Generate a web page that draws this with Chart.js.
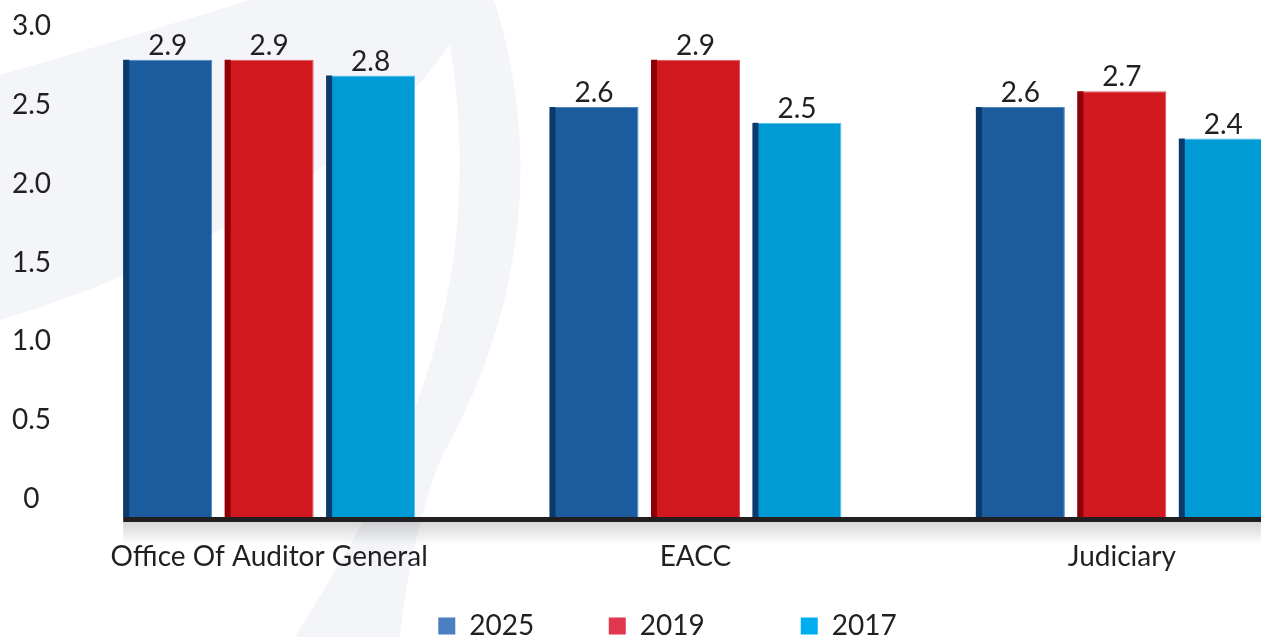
<!DOCTYPE html>
<html>
<head>
<meta charset="utf-8">
<script src="https://cdn.jsdelivr.net/npm/chart.js@4.4.1/dist/chart.umd.min.js"></script>
<style>
  html, body { margin: 0; padding: 0; background: #fff; overflow: hidden; }
  #contenedor { position: relative; width: 1340px; height: 650px; }
</style>
</head>
<body>
<div id="contenedor"><canvas id="chartInstituciones"></canvas></div>
<script>
// datos
var categorias = ['Office Of Auditor General', 'EACC', 'Judiciary'];
var anios = ['2025', '2019', '2017'];
var valores2025 = [2.9, 2.6, 2.6];
var valores2019 = [2.9, 2.9, 2.7];
var valores2017 = [2.8, 2.5, 2.4];
var ticksY = [0, 0.5, 1.0, 1.5, 2.0, 2.5, 3.0];
var etiquetasY = ['0', '0.5', '1.0', '1.5', '2.0', '2.5', '3.0'];

var colorBarra = ['#1a5c9e', '#d1181f', '#009bd4'];
var colorLado = ['#0c3a6c', '#8e0008', '#0d3a6d'];
var colorBorde = ['#4f86c0', '#e0575c', '#55c3ea'];
var colorLeyenda = ['#4a7fc1', '#e0364e', '#00aeef'];
var espaciosLeyenda = [9, 12, 0];
var texto = '#231f20';
var fuente = "'Lato', 'Noto Sans', sans-serif";

Chart.defaults.font.family = fuente;
Chart.defaults.font.size = 28;
Chart.defaults.font.weight = 'normal';
Chart.defaults.color = texto;

// fondo con la marca de agua
var fondo = {
  id: 'fondo',
  beforeDraw: function (chart) {
    var ctx = chart.ctx;
    ctx.save();
    ctx.fillStyle = '#ffffff';
    ctx.fillRect(0, 0, chart.width, chart.height);
    ctx.fillStyle = '#f3f5f9';
    ctx.beginPath();
    ctx.moveTo(0, 75);
    ctx.quadraticCurveTo(120, 40, 250, 0);
    ctx.lineTo(494, 0);
    ctx.bezierCurveTo(545, 160, 520, 320, 440, 460);
    ctx.quadraticCurveTo(410, 540, 400, 637);
    ctx.lineTo(295, 637);
    ctx.bezierCurveTo(400, 470, 490, 300, 450, 44);
    ctx.bezierCurveTo(380, 150, 200, 260, 0, 320);
    ctx.closePath();
    ctx.fill();
    ctx.restore();
  }
};

// lado oscuro de las barras, eje y valores
var barras3d = {
  id: 'barras3d',
  afterDatasetsDraw: function (chart) {
    var ctx = chart.ctx;
    var primero = chart.getDatasetMeta(0).data[0];
    var base = primero.base;
    var inicio = primero.x - primero.width / 2;

    ctx.save();
    chart.data.datasets.forEach(function (ds, i) {
      var meta = chart.getDatasetMeta(i);
      meta.data.forEach(function (bar, j) {
        var x0 = bar.x - bar.width / 2;
        ctx.fillStyle = colorLado[i];
        ctx.fillRect(x0, bar.y, 6, bar.base - bar.y);
        ctx.font = 'normal 28px ' + fuente;
        ctx.fillStyle = texto;
        ctx.textAlign = 'center';
        ctx.textBaseline = 'bottom';
        ctx.fillText(ds.data[j].toFixed(1), bar.x, bar.y);
      });
    });

    // sombra y linea del eje
    var g = ctx.createLinearGradient(0, base + 5, 0, base + 28);
    g.addColorStop(0, 'rgba(0,0,0,0.16)');
    g.addColorStop(1, 'rgba(0,0,0,0)');
    ctx.fillStyle = g;
    ctx.fillRect(inicio, base + 5, chart.width - inicio, 23);
    ctx.fillStyle = texto;
    ctx.fillRect(inicio, base, chart.width - inicio, 5);
    ctx.restore();
  }
};

function serie(i, datos) {
  return {
    label: anios[i],
    data: datos,
    backgroundColor: colorBarra[i],
    borderColor: colorBorde[i],
    borderWidth: { top: 1, right: 1, left: 0, bottom: 0 },
    borderSkipped: 'bottom',
    categoryPercentage: 0.714,
    barPercentage: 0.877
  };
}

var chartInstituciones = new Chart(document.getElementById('chartInstituciones'), {
  type: 'bar',
  data: {
    labels: categorias,
    datasets: [serie(0, valores2025), serie(1, valores2019), serie(2, valores2017)]
  },
  options: {
    responsive: true,
    maintainAspectRatio: false,
    animation: false,
    layout: { padding: { top: 44, right: 5, left: 0, bottom: 0 } },
    scales: {
      x: {
        grid: { display: false, drawTicks: false },
        border: { display: false },
        ticks: { padding: 23, maxRotation: 0, autoSkip: false },
        afterFit: function (scale) { scale.height = 85; }
      },
      y: {
        min: 0,
        max: 3,
        grid: { display: false, drawTicks: false },
        border: { display: false },
        afterBuildTicks: function (axis) {
          axis.ticks = ticksY.map(function (v) { return { value: v }; });
        },
        ticks: {
          crossAlign: 'center',
          padding: 5,
          labelOffset: -18,
          callback: function (v) { return etiquetasY[ticksY.indexOf(v)]; }
        },
        afterFit: function (scale) { scale.width = 56; }
      }
    },
    plugins: {
      tooltip: { enabled: false },
      legend: {
        position: 'bottom',
        labels: {
          boxWidth: 17,
          boxHeight: 17,
          padding: 10,
          generateLabels: function (chart) {
            return anios.map(function (a, i) {
              return {
                text: a + ' '.repeat(espaciosLeyenda[i]),
                fillStyle: colorLeyenda[i],
                strokeStyle: colorLeyenda[i],
                lineWidth: 0,
                fontColor: texto,
                datasetIndex: i
              };
            });
          }
        }
      }
    }
  },
  plugins: [fondo, barras3d]
});
</script>
</body>
</html>
